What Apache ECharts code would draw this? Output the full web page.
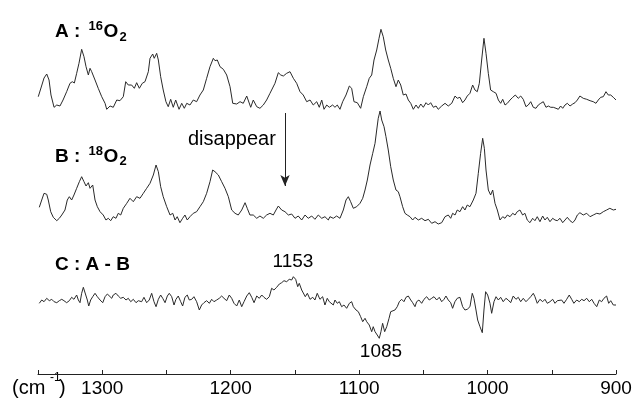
<!DOCTYPE html>
<html>
<head>
<meta charset="utf-8">
<script src="https://cdn.jsdelivr.net/npm/echarts@6/dist/echarts.min.js"></script>
<style>html,body{margin:0;padding:0;background:#fff;}#c{width:639px;height:401px;}</style>
</head>
<body>
<div id="c"></div>
<script>
// Raman spectra: [wavenumber (cm-1), relative intensity]
const specA = [
[1349.8,13.3],[1347.7,22],[1345.3,32],[1343.2,36],[1341.4,30],[1339.9,15],[1337.5,2.7],[1335.4,5],[1332.9,4],[1330.5,10],
[1327.7,18.3],[1325.1,26.7],[1323.3,28.3],[1321.7,27],[1319.9,36.7],[1318.1,46.7],[1316.0,60.7],[1314.2,53.3],[1312.6,43.3],[1310.8,35],
[1309.5,41.7],[1308.2,38.3],[1305.6,30],[1303.1,21.7],[1300.4,13.3],[1297.8,6.7],[1296.5,0.7],[1293.9,4],[1291.4,2.7],[1288.7,10],
[1286.2,9.3],[1283.6,13.3],[1281.7,28.3],[1279.7,25],[1277.1,25],[1275.0,21.7],[1273.2,27.3],[1271.1,21.7],[1268.8,26.7],[1266.7,28.3],
[1264.1,38.3],[1262.8,51.7],[1260.7,56],[1259.5,51.7],[1257.6,56.7],[1256.3,50],[1254.5,33.3],[1252.5,20],[1250.4,8.3],[1248.6,3.3],
[1246.7,10.7],[1244.7,2.7],[1242.8,10],[1240.2,0.7],[1238.1,6.7],[1236.1,1.7],[1234.2,6.7],[1231.7,5],[1229.1,10],[1226.5,8.3],
[1223.9,15],[1221.3,20],[1218.7,31.7],[1216.1,43.3],[1213.5,51.7],[1212.2,49.3],[1210.4,50],[1208.3,43.3],[1205.7,40.7],[1203.1,35],
[1200.5,23.3],[1198.4,6.7],[1195.3,6],[1192.7,8.3],[1190.2,6.7],[1187.5,14],[1186.3,15],[1184.4,2.7],[1182.4,10],[1179.7,3.3],
[1177.2,1.7],[1174.6,5],[1172.0,10],[1169.4,16.7],[1165.5,26.7],[1162.9,37.3],[1161.0,35],[1159.0,34],[1156.4,36.7],[1153.8,38.3],
[1151.2,31.7],[1148.6,26.7],[1146.0,18.3],[1143.5,15],[1140.8,8.3],[1138.2,10],[1135.7,5],[1133.0,8.3],[1131.0,2.7],[1129.1,10],
[1127.3,0.7],[1125.2,5],[1123.2,2.7],
[1120.6,5],[1118.8,2.7],[1117.0,5],[1114.9,0.7],[1112.8,8.3],[1110.2,15],[1107.6,24],[1105.8,21.7],[1104.0,8.3],[1101.4,7.3],
[1098.8,1.7],[1096.7,13.3],[1094.1,23.3],[1092.1,31.7],[1090.2,35],[1088.4,50],[1086.3,60],[1084.5,71.7],[1083.0,80.7],[1081.2,73.3],
[1079.3,60],[1077.3,50],[1075.4,41.7],[1073.4,31.7],[1071.3,23.3],[1069.5,30],[1067.6,25],[1065.6,15],[1063.5,16],[1061.7,10],
[1059.8,6.7],[1057.8,0.7],[1055.7,5],[1053.9,1.7],[1052.0,6],[1050.0,2.7],[1047.9,7.3],[1046.1,5],[1044.3,7.3],[1042.2,2.7],
[1040.1,4],[1038.4,0.7],[1035.7,4],[1033.1,6.7],[1030.6,4],[1027.9,6.7],[1025.3,14],[1023.6,11.7],[1021.5,12.7],[1019.4,7.3],
[1017.6,10],[1015.8,14],[1013.7,16.7],[1011.6,25],[1009.8,20],[1008.0,18.3],[1006.4,26.7],[1004.6,50],[1002.8,71.7],[1001.2,56.7],
[999.4,36.7],[997.6,20],[995.5,18.3],[993.4,16.7],[991.6,10],[989.8,6.7],[988.2,10.7],[986.4,5],[984.6,6.7],[982.5,10],
[980.4,12.7],[978.4,15],[976.1,11.7],[974.2,14],[972.2,10.7],[970.1,3.3],[968.3,5],[966.4,8.3],[964.4,2.7],[962.3,1.7],
[960.5,5],[958.6,6.7],[956.6,8.3],[954.5,2.7],[952.7,4],[950.8,2.7],[948.8,2.7],[946.7,1.7],[944.9,0.7],[943.1,4],
[941.5,1.7],[939.7,5],[937.9,6.7],[935.8,4],[933.7,6],[931.9,7.3],[930.1,10],[928.1,14],[925.5,11.7],[922.8,10.7],
[920.2,9.3],[917.7,8.3],[915.6,6.7],[913.8,10],[911.9,12.7],[909.9,13.3],[907.8,18.3],[906.0,15],[904.1,15],[902.1,12.7],[900.0,10]
];
const specB = [
[1349.0,17.7],[1347.1,25],[1345.3,31.7],[1343.2,30.7],[1342.0,25],[1340.1,13.3],[1338.1,7.7],[1335.4,4.3],[1333.4,6.7],[1331.5,10],
[1329.0,15],[1327.2,25],[1325.6,28.3],[1323.8,25],[1322.0,30],[1319.9,36.7],[1317.8,43.3],[1316.0,48.3],[1314.2,43.3],[1312.6,39],
[1310.8,42.3],[1309.5,36.7],[1307.4,40],[1305.6,25],[1303.8,18.3],[1301.7,13.3],[1299.2,10],[1297.1,5],[1295.3,6.7],[1293.4,4.3],
[1291.4,8.3],[1289.3,6.7],[1287.5,11.7],[1285.6,10],[1283.6,16.7],[1280.9,21.7],[1278.4,26.7],[1275.8,23.3],[1273.2,28.3],[1270.6,26.7],
[1268.0,31.7],[1265.4,36.7],[1262.8,41.7],[1260.2,50],[1258.1,60],[1256.3,53.3],[1254.5,38.3],[1252.5,28.3],[1249.8,18.3],[1247.2,10],
[1245.1,11.7],[1243.3,5],[1241.6,8.3],[1239.5,2.3],[1237.4,6.7],[1235.6,10],[1233.8,5],[1231.7,8.3],[1229.1,11.7],[1226.5,13.3],
[1223.9,18.3],[1221.3,23.3],[1218.7,31.7],[1216.1,43.3],[1214.0,55],[1212.2,53.3],[1209.6,50],[1207.0,43.3],[1204.4,36.7],[1201.8,28.3],
[1199.2,15],[1196.6,11.7],[1194.1,10],[1191.4,15],[1188.8,22.3],[1187.1,16.7],[1185.0,10],[1182.4,10],[1179.7,6.7],[1177.2,9],
[1174.6,6.7],[1172.0,10],[1169.4,11.7],[1166.8,10],[1164.7,15],[1162.9,19],[1160.3,15],[1157.7,13.3],[1155.1,10],[1152.5,11],
[1149.9,6.7],[1147.4,9],[1144.7,5],[1142.1,10],[1139.6,6.7],[1136.9,9],[1134.4,5.7],[1131.8,10],[1129.1,6.7],[1126.6,8.3],
[1124.0,5],[1122.7,8.3],[1120.1,6.7],[1117.5,9],[1114.9,6.7],[1112.3,15],[1110.2,25],[1108.4,28.3],[1106.6,23.3],[1104.5,16.7],
[1101.9,18.3],[1099.3,21.7],[1097.2,26.7],[1095.4,35],[1093.6,45],[1091.5,60],[1089.4,71.7],[1087.6,81.7],[1086.3,95],[1085.1,106.7],
[1083.7,114],[1082.4,105],[1080.6,98.3],[1079.1,88.3],[1077.3,75],[1075.4,58.3],[1073.4,45],[1071.3,35],[1069.5,33.3],[1068.2,28.3],
[1066.1,18.3],[1064.3,11.7],[1062.5,10],[1060.4,8.3],[1058.3,5],[1056.5,7.7],[1053.9,5],[1051.3,6.7],[1048.7,4.3],[1046.1,5.7],
[1043.5,1.7],[1040.9,3.3],[1038.4,1],[1035.7,2.3],[1033.1,8.3],[1030.6,10],[1028.7,6.7],[1027.2,11.7],[1025.3,10],[1023.6,15],
[1021.5,13.3],[1019.4,18.3],[1017.6,15],[1015.8,20],[1013.7,18.3],[1011.1,25],[1009.0,31.7],[1007.2,51.7],[1005.4,71.7],[1003.8,86.7],
[1002.5,76.7],[1001.2,55],[999.4,35],[997.6,30],[996.0,35],[994.2,21.7],[992.4,15],[990.3,5],[988.2,8.3],[986.4,6.7],
[984.6,10],[982.5,8.3],[980.4,11.7],[978.6,10],[976.9,13.3],[974.8,15],[972.7,10],[970.9,11.7],[969.1,5],[967.0,2.3],
[964.9,6.7],[963.1,4.3],[961.3,8.3],[959.2,3.3],[957.1,9],[955.3,5],[953.5,7.7],[951.4,3.3],[949.3,6.7],[947.5,5],
[945.7,4.3],[943.6,6.7],[941.5,2.3],[939.7,5],[937.9,7.7],[935.8,4.3],[933.7,2.3],[931.9,5],[930.1,10],[928.1,12.3],
[925.5,10],[922.8,11.7],[920.2,8.3],[917.7,10],[915.0,11.7],[912.5,11],[909.9,13.3],[907.3,15],[904.8,16.7],[902.1,15],[900.0,15.7]
];
const specC = [
[1349.0,-0.3],[1347.1,3],[1345.3,1.3],[1343.2,4.7],[1341.2,2.3],[1339.3,3.7],[1337.5,1.3],[1335.4,0.3],[1333.4,2.3],[1331.5,3.7],
[1329.8,2.3],[1327.7,0.3],[1325.6,2.3],[1323.8,5.7],[1322.0,3.7],[1319.9,8],[1318.6,3],[1317.3,0.3],[1316.0,9.7],[1314.7,15.7],
[1313.2,13.7],[1311.6,3],[1310.5,-3],[1309.0,3],[1307.4,6.3],[1305.6,9.7],[1303.8,6.3],[1301.7,3],[1299.6,0.3],[1297.8,6.3],
[1296.0,9],[1294.5,7],[1292.6,4.7],[1291.4,8],[1289.3,9.7],[1287.5,7],[1285.6,4.7],[1283.6,5.7],[1281.5,3],[1279.7,4.7],
[1277.8,1.3],[1275.8,3.7],[1273.7,0.3],[1271.9,2.3],[1269.3,1.3],[1267.5,5.7],[1265.4,0.3],[1263.4,3],[1261.5,9.7],[1259.7,1.3],
[1258.1,-3.7],[1256.3,3.7],[1254.5,8],[1252.9,4.7],[1251.1,0.3],[1249.3,7],[1247.8,9.7],[1245.9,6.3],[1244.1,-2],[1242.6,3.7],
[1240.8,7],[1238.9,1.3],[1237.4,-3],[1235.6,5.7],[1233.8,8],[1232.2,3],[1230.3,3.7],[1228.6,6.3],[1226.5,1.3],[1224.4,-7],
[1222.6,-2],[1220.8,0.3],[1218.7,2.3],[1216.6,-0.3],[1214.8,3.7],[1213.0,1.3],[1210.9,3],[1208.9,4.7],[1207.0,7],[1205.2,4.7],
[1203.1,2.3],[1201.1,8],[1199.2,4.7],[1197.4,-0.3],[1195.3,-3],[1193.3,3],[1191.4,-3.7],[1189.6,1.3],[1187.5,7],[1185.5,10.3],
[1183.6,5.7],[1181.8,0.3],[1179.7,7],[1177.7,4.7],[1175.8,8],[1174.1,5.7],[1172.0,3.7],[1169.9,6.3],[1168.1,14.7],[1166.3,13],
[1164.2,15.7],[1162.1,19],[1160.3,20.3],[1158.5,22.3],[1156.4,21.3],[1154.4,23.7],[1152.5,23],[1151.2,26.3],[1149.4,23.7],[1147.8,16.3],
[1146.6,19.7],[1144.7,13],[1143.5,11.3],[1141.9,6.3],[1140.3,9.7],[1138.2,3.7],[1136.1,5.7],[1134.4,3],[1132.6,9.7],[1130.5,3.7],
[1128.4,6.3],[1126.6,-2],[1124.8,4.7],[1123.2,1.3],[1122.1,3],[1120.1,-2],[1118.8,3],[1117.0,-0.3],[1115.4,1.3],[1113.6,-3.7],
[1111.8,-2],[1109.7,-5.3],[1107.6,-0.3],[1105.8,1.3],[1104.5,-3.7],[1102.4,-7],[1100.6,-8.7],[1098.8,-13.7],[1097.2,-18.7],[1095.4,-15.3],
[1094.1,-18.7],[1092.1,-22],[1090.2,-28.7],[1089.0,-23.7],[1087.6,-28.7],[1085.9,-32],[1084.3,-35.3],[1083.0,-28.7],[1081.7,-20.3],[1080.1,-28.7],
[1078.5,-23.7],[1076.7,-15.3],[1075.4,-8.7],[1073.9,-7],[1072.1,-7],[1070.3,-3.7],[1068.7,1.3],[1066.9,3.7],[1065.1,1.3],[1063.5,5.7],
[1061.7,7],[1059.8,3],[1058.3,0.3],[1056.5,-3.7],[1055.2,1.3],[1053.4,3],[1051.3,-0.3],[1049.5,3.7],[1047.4,6.3],[1045.4,3],
[1043.5,4.7],[1041.7,6.3],[1039.6,3],[1037.6,5.7],[1035.7,1.3],[1033.9,3.7],[1032.4,7],[1030.6,3],[1028.7,0.3],[1027.2,-5.3],
[1025.4,1.3],[1023.6,4.7],[1021.5,5.7],[1019.4,-3.7],[1017.6,-7],[1015.8,-6.3],[1013.7,-3.7],[1011.9,9.7],[1010.6,4.7],[1009.0,-7],
[1007.7,-17],[1005.9,-23.7],[1004.1,-29.7],[1002.8,-7],[1001.5,11.3],[999.9,8],[998.1,-0.3],[996.8,-10.3],[995.0,1.3],[993.4,6.3],
[991.6,3],[989.8,5.7],[987.8,1.3],[985.7,4.7],[983.9,3],[982.0,0.3],[980.0,7],[977.9,3.7],[976.1,5.7],[974.2,1.3],
[972.2,4.7],[970.1,1.3],[968.3,3.7],[966.4,6.3],[964.4,9.7],[963.1,6.3],[961.3,-0.3],[959.2,3.7],[957.1,1.3],[955.3,3.7],
[953.5,-0.3],[951.4,1.3],[949.3,3.7],[947.5,-0.3],[945.7,2.3],[944.2,0.3],[942.3,3],[940.5,-0.3],[938.4,3.7],[936.4,8],
[934.5,3.7],[932.8,-0.3],[930.6,3],[928.6,1.3],[926.7,3.7],[924.9,2.3],[922.8,4.7],[920.8,1.3],[918.9,3.7],[917.1,-0.3],
[915.0,-3.7],[913.0,3],[911.2,1.3],[909.4,4.7],[907.3,7],[905.7,-0.3],[904.1,2.3],[902.1,-2],[900.0,-2]
];
// vertical offsets of the stacked traces
const offsetA = 264, offsetB = 149, offsetC = 71;
const xTicks = [1300, 1200, 1100, 1000, 900];

const font = 'Liberation Sans, Arial, sans-serif';
const shift = (arr, off) => arr.map(p => [p[0], p[1] + off]);
const lineStyle = { color: '#2a2a2a', width: 1 };

const chart = echarts.init(document.getElementById('c'), null, { renderer: 'canvas' });
const txt = (x, y, text, size, bold, align) => ({
  type: 'text', x: x, y: y,
  style: { text: text, fill: '#000', font: (bold ? 'bold ' : '') + size + 'px ' + font,
           align: align || 'left', verticalAlign: 'middle' }
});

chart.setOption({
  animation: false,
  backgroundColor: '#fff',
  grid: { left: 38, right: 23, top: 0, bottom: 27 },
  xAxis: {
    type: 'value', min: 900, max: 1350, interval: 50, inverse: true,
    axisLine: { lineStyle: { color: '#222', width: 1 } },
    axisTick: { inside: true, length: 4, lineStyle: { color: '#222' } },
    splitLine: { show: false },
    axisLabel: { fontSize: 19, fontFamily: font, color: '#000', margin: 5,
      formatter: v => (xTicks.indexOf(v) >= 0 ? String(v) : '') }
  },
  yAxis: { type: 'value', min: 0, max: 374, show: false, splitLine: { show: false } },
  series: [
    { type: 'line', data: shift(specA, offsetA), showSymbol: false, lineStyle: lineStyle, silent: true },
    { type: 'line', data: shift(specB, offsetB), showSymbol: false, lineStyle: lineStyle, silent: true,
      markLine: { silent: true, symbol: ['none', 'arrow'], symbolSize: [7, 11],
        lineStyle: { color: '#222', width: 1, type: 'solid' }, label: { show: false },
        data: [[{ coord: [1157.7, 261] }, { coord: [1157.7, 188] }]] } },
    { type: 'line', data: shift(specC, offsetC), showSymbol: false, lineStyle: lineStyle, silent: true }
  ],
  graphic: [
    txt(55, 31.7, 'A :', 19, true), txt(88.5, 26.5, '16', 13, true), txt(103.5, 31.7, 'O', 19, true), txt(119.5, 37, '2', 13, true),
    txt(55, 156.5, 'B :', 19, true), txt(88.5, 151.3, '18', 13, true), txt(103.5, 156.5, 'O', 19, true), txt(119.5, 161.8, '2', 13, true),
    txt(55, 265, 'C : A - B', 19, true),
    txt(188, 139.7, 'disappear', 20, false),
    txt(293, 262, '1153', 19, false, 'center'),
    txt(381, 352, '1085', 19, false, 'center'),
    txt(12, 388, '(cm', 20, false), txt(50, 378, '-1', 12, false), txt(59, 388, ')', 20, false)
  ]
});
</script>
</body>
</html>
